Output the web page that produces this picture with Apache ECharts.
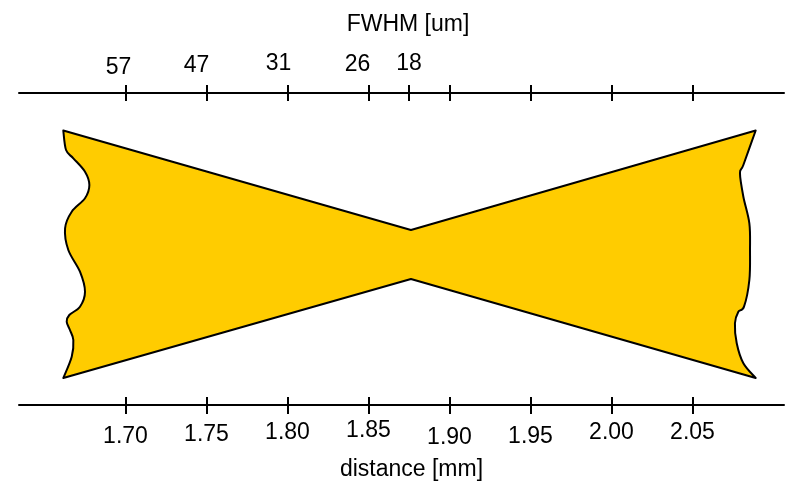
<!DOCTYPE html>
<html lang="en">
<head>
    <meta charset="UTF-8">
    <title>Beam waist</title>
    <script src="https://cdn.jsdelivr.net/npm/echarts@6/dist/echarts.min.js"></script>
    <style>
        body { margin: 0; padding: 0; background: #fff; }
        #chart { width: 785px; height: 482px; }
    </style>
</head>
<body>
    <div id="chart"></div>
    <script>
        // axis ticks (distance, mm)
        var distanceTicks = [1.70, 1.75, 1.80, 1.85, 1.90, 1.95, 2.00, 2.05];
        var fwhmTicks = [1.70, 1.75, 1.80, 1.85, 1.875, 1.90, 1.95, 2.00, 2.05];
        var fwhmLabelPos = [1.70, 1.75, 1.80, 1.85, 1.875];
        var fwhmLabels = ['57', '47', '31', '26', '18'];

        // beam outline: straight edges through the waist
        var waistX = 1.8762;
        var waistHalf = [24, -25];
        var cornerLeftX = 1.6616, cornerRightX = 2.0890;
        var cornerTop = 123.5, cornerBottom = -124;

        // wavy left end (top -> bottom)
        var leftEdgeX = [1.6616, 1.6633, 1.6678, 1.6750, 1.6777, 1.6750, 1.6668, 1.6627, 1.6647,
                         1.6719, 1.6750, 1.6719, 1.6653, 1.6637, 1.6657, 1.6678, 1.6668, 1.6616];
        var leftEdgeY = [123.5, 104, 95.7, 82.3, 69, 55.7, 42.3, 25.7, 4,
                         -17.7, -37.7, -52.7, -61, -67.7, -76, -86, -102.7, -124];
        // wavy right end (top -> bottom)
        var rightEdgeX = [2.0890, 2.0814, 2.0793, 2.0814, 2.0851, 2.0855, 2.0851, 2.0818, 2.0783,
                          2.0762, 2.0773, 2.0814, 2.0886];
        var rightEdgeY = [123.5, 89, 80.7, 57.3, 30.7, 4, -26, -52.7, -57.7,
                          -69.3, -89.3, -109.3, -124];

        var FONT = "'Liberation Sans', Arial, sans-serif";
        var FS = 23;
        var topShift = [[14, 0], [20, 2], [18, 4], [22, 3], [0, 4]];   // [right pad, bottom pad]
        var bottomShift = [6, 4, 2, 0, 7, 6, 2, 2];                   // top pad

        var chart = echarts.init(document.getElementById('chart'));

        // smooth curve through points (Catmull-Rom -> cubic bezier)
        function curvePath(pts) {
            var d = '';
            for (var i = 0; i < pts.length - 1; i++) {
                var p0 = pts[Math.max(i - 1, 0)], p1 = pts[i], p2 = pts[i + 1];
                var p3 = pts[Math.min(i + 2, pts.length - 1)];
                var c1 = [p1[0] + (p2[0] - p0[0]) / 6, p1[1] + (p2[1] - p0[1]) / 6];
                var c2 = [p2[0] - (p3[0] - p1[0]) / 6, p2[1] - (p3[1] - p1[1]) / 6];
                d += ' C' + c1[0] + ',' + c1[1] + ' ' + c2[0] + ',' + c2[1] + ' ' + p2[0] + ',' + p2[1];
            }
            return d;
        }

        function renderBeam(params, api) {
            var right = rightEdgeX.map(function (x, i) { return api.coord([x, rightEdgeY[i]]); });
            var left = leftEdgeX.map(function (x, i) { return api.coord([x, leftEdgeY[i]]); }).reverse();
            var tl = api.coord([cornerLeftX, cornerTop]);
            var wt = api.coord([waistX, waistHalf[0]]);
            var tr = api.coord([cornerRightX, cornerTop]);
            var br = api.coord([cornerRightX, cornerBottom]);
            var wb = api.coord([waistX, waistHalf[1]]);
            var bl = api.coord([cornerLeftX, cornerBottom]);
            var d = 'M' + tl[0] + ',' + tl[1] + ' L' + wt[0] + ',' + wt[1] + ' L' + tr[0] + ',' + tr[1];
            right[0] = tr; right[right.length - 1] = br;
            d += curvePath(right);
            d += ' L' + wb[0] + ',' + wb[1] + ' L' + bl[0] + ',' + bl[1];
            left[0] = bl; left[left.length - 1] = tl;
            d += curvePath(left) + ' Z';
            return {
                type: 'path',
                shape: { pathData: d },
                style: { fill: '#FFCC00', stroke: '#000', lineWidth: 2, lineJoin: 'round' }
            };
        }

        var topRich = {}, bottomRich = {};
        topShift.forEach(function (s, i) {
            topRich['t' + i] = { fontSize: FS, fontFamily: FONT, color: '#000', padding: [0, s[0], s[1], 0] };
        });
        bottomShift.forEach(function (s, i) {
            bottomRich['b' + i] = { fontSize: FS, fontFamily: FONT, color: '#000', padding: [s, 0, 0, 0] };
        });

        var xMin = 1.70 - 106.5 / 1620, xMax = 2.05 + 91.5 / 1620;
        var lineStyle = { color: '#000', width: 2 };

        var option = {
            animation: false,
            grid: { left: 19, right: 1, top: 93, bottom: 77, outerBoundsMode: 'none', containLabel: false },
            xAxis: [
                {
                    type: 'value', position: 'bottom', min: xMin, max: xMax,
                    splitLine: { show: false },
                    axisLine: { show: true, onZero: false, lineStyle: lineStyle },
                    axisTick: { show: true, inside: false, length: 9, lineStyle: lineStyle, customValues: distanceTicks },
                    axisLabel: {
                        margin: 14, customValues: distanceTicks,
                        formatter: function (v) {
                            var i = distanceTicks.indexOf(v);
                            return '{b' + i + '|' + v.toFixed(2) + '}';
                        },
                        rich: bottomRich
                    },
                    name: 'distance [mm]', nameLocation: 'middle', nameGap: 53,
                    nameTextStyle: { fontSize: FS, fontFamily: FONT, color: '#000', padding: [0, 0, 0, 20] }
                },
                {
                    type: 'value', position: 'bottom', min: xMin, max: xMax,
                    splitLine: { show: false }, axisLine: { show: false, onZero: false }, axisLabel: { show: false },
                    axisTick: { show: true, inside: true, length: 8, lineStyle: lineStyle, customValues: distanceTicks }
                },
                {
                    type: 'value', position: 'top', min: xMin, max: xMax,
                    splitLine: { show: false },
                    axisLine: { show: true, onZero: false, lineStyle: lineStyle },
                    axisTick: { show: true, inside: false, length: 8, lineStyle: lineStyle, customValues: fwhmTicks },
                    axisLabel: {
                        margin: 14, customValues: fwhmLabelPos,
                        formatter: function (v) {
                            var i = fwhmLabelPos.indexOf(v);
                            return '{t' + i + '|' + fwhmLabels[i] + '}';
                        },
                        rich: topRich
                    },
                    name: 'FWHM [um]', nameLocation: 'middle', nameGap: 57,
                    nameTextStyle: { fontSize: FS, fontFamily: FONT, color: '#000', padding: [0, 0, 0, 13] }
                },
                {
                    type: 'value', position: 'top', min: xMin, max: xMax,
                    splitLine: { show: false }, axisLine: { show: false, onZero: false }, axisLabel: { show: false },
                    axisTick: { show: true, inside: true, length: 8, lineStyle: lineStyle, customValues: fwhmTicks }
                }
            ],
            yAxis: { type: 'value', min: -151, max: 161, show: false, splitLine: { show: false } },
            series: [{
                type: 'custom',
                renderItem: renderBeam,
                data: [[waistX, 0]],
                clip: false,
                silent: true
            }]
        };
        chart.setOption(option);
    </script>
</body>
</html>
